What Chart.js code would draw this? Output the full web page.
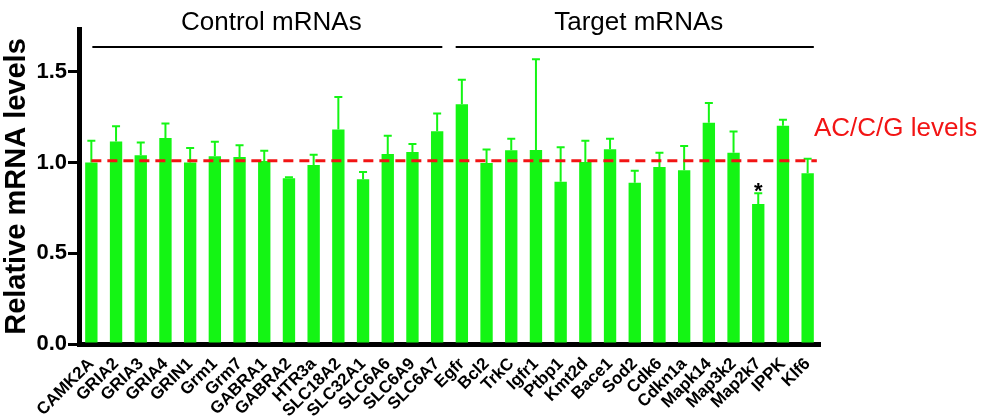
<!DOCTYPE html>
<html>
<head>
<meta charset="utf-8">
<script src="https://cdn.jsdelivr.net/npm/chart.js@4/dist/chart.umd.min.js"></script>
<style>
  html, body { margin: 0; padding: 0; background: #fff; }
  #wrap { width: 981px; height: 417px; }
</style>
</head>
<body>
<div id="wrap"><canvas id="chart"></canvas></div>
<script>
const controlGenes = ['CAMK2A', 'GRIA2', 'GRIA3', 'GRIA4', 'GRIN1', 'Grm1', 'Grm7', 'GABRA1', 'GABRA2', 'HTR3a', 'SLC18A2', 'SLC32A1', 'SLC6A6', 'SLC6A9', 'SLC6A7'];
const targetGenes = ['Egfr', 'Bcl2', 'TrkC', 'Igfr1', 'Ptbp1', 'Kmt2d', 'Bace1', 'Sod2', 'Cdk6', 'Cdkn1a', 'Mapk14', 'Map3k2', 'Map2k7', 'IPPK', 'Klf6'];

const controlMeans = [1.00, 1.115, 1.04, 1.135, 1.00, 1.034, 1.03, 1.008, 0.913, 0.986, 1.181, 0.907, 1.047, 1.058, 1.172];
const controlErrs = [0.12, 0.085, 0.07, 0.08, 0.08, 0.08, 0.065, 0.057, 0.005, 0.057, 0.18, 0.04, 0.10, 0.043, 0.098];
const targetMeans = [1.32, 0.997, 1.067, 1.069, 0.894, 1.003, 1.073, 0.888, 0.975, 0.957, 1.218, 1.054, 0.771, 1.202, 0.94];
const targetErrs = [0.136, 0.074, 0.063, 0.50, 0.19, 0.116, 0.057, 0.066, 0.079, 0.134, 0.109, 0.116, 0.059, 0.033, 0.08];

const yTicks = [0, 0.5, 1.0, 1.5];
const refLevel = 1.01;
const starred = ['Map2k7'];

const labels = controlGenes.concat(targetGenes);
const means = controlMeans.concat(targetMeans);
const errs = controlErrs.concat(targetErrs);

const GREEN = '#14f514';
const RED = '#f21414';
const FONT = '"Liberation Sans", Arial, sans-serif';

// error bars, reference line, group labels
const annotations = {
  id: 'annotations',
  afterDatasetsDraw(chart) {
    const ctx = chart.ctx;
    const x = chart.scales.x;
    const y = chart.scales.y;
    const meta = chart.getDatasetMeta(0);
    const half = meta.data[0].width / 2;

    ctx.save();
    // error bars
    ctx.strokeStyle = GREEN;
    ctx.lineWidth = 2;
    meta.data.forEach((bar, i) => {
      const top = y.getPixelForValue(means[i] + errs[i]);
      ctx.beginPath();
      ctx.moveTo(bar.x, bar.y);
      ctx.lineTo(bar.x, top);
      ctx.moveTo(bar.x - 4, top);
      ctx.lineTo(bar.x + 4, top);
      ctx.stroke();
      if (starred.includes(labels[i])) {
        ctx.fillStyle = '#000';
        ctx.font = 'bold 22px ' + FONT;
        ctx.textAlign = 'center';
        ctx.textBaseline = 'alphabetic';
        ctx.fillText('*', bar.x, top + 5);
      }
    });

    // reference level
    const ly = y.getPixelForValue(refLevel);
    ctx.strokeStyle = RED;
    ctx.lineWidth = 3;
    ctx.setLineDash([10, 6]);
    ctx.beginPath();
    ctx.moveTo(x.getPixelForValue(0), ly);
    ctx.lineTo(x.getPixelForValue(labels.length - 1) + half + 3, ly);
    ctx.stroke();
    ctx.setLineDash([]);
    ctx.fillStyle = RED;
    ctx.font = '26px ' + FONT;
    ctx.textAlign = 'left';
    ctx.textBaseline = 'middle';
    ctx.fillText('AC/C/G levels', 814, 129);

    // group brackets
    const groups = [
      { text: 'Control mRNAs', x0: x.getPixelForValue(0) + 1, x1: x.getPixelForValue(controlGenes.length - 1) + half - 1 },
      { text: 'Target mRNAs', x0: x.getPixelForValue(controlGenes.length) - half, x1: x.getPixelForValue(labels.length - 1) + half }
    ];
    ctx.strokeStyle = '#000';
    ctx.lineWidth = 2;
    ctx.fillStyle = '#000';
    ctx.textAlign = 'center';
    groups.forEach(g => {
      ctx.beginPath();
      ctx.moveTo(g.x0, 47);
      ctx.lineTo(g.x1, 47);
      ctx.stroke();
      ctx.fillText(g.text, (g.x0 + g.x1) / 2 + 4, 23);
    });
    ctx.restore();
  }
};

new Chart(document.getElementById('chart'), {
  type: 'bar',
  data: {
    labels: labels,
    datasets: [{
      data: means,
      backgroundColor: GREEN,
      borderWidth: 0,
      barPercentage: 0.5,
      categoryPercentage: 1.0
    }]
  },
  options: {
    responsive: true,
    maintainAspectRatio: false,
    animation: false,
    layout: { padding: { top: 29, right: 161, left: 0, bottom: 0 } },
    plugins: {
      legend: { display: false },
      tooltip: { enabled: false }
    },
    scales: {
      x: {
        grid: { display: false },
        border: { display: true, color: '#000', width: 5 },
        ticks: {
          autoSkip: false,
          minRotation: 45,
          maxRotation: 45,
          padding: 2,
          color: '#000',
          font: { family: FONT, size: 17, weight: 'bold' }
        },
        afterFit(scale) { scale.height = 73; }
      },
      y: {
        min: 0,
        max: 1.735,
        afterBuildTicks(scale) { scale.ticks = yTicks.map(v => ({ value: v })); },
        grid: { display: true, drawOnChartArea: false, drawTicks: true, tickLength: 11, lineWidth: 3, color: '#000' },
        border: { display: true, color: '#000', width: 5 },
        ticks: {
          padding: 1,
          color: '#000',
          font: { family: FONT, size: 22, weight: 'bold' },
          callback: v => v.toFixed(1)
        },
        title: {
          display: true,
          text: 'Relative mRNA levels',
          color: '#000',
          padding: { top: 0, bottom: 0 },
          font: { family: FONT, size: 29, weight: 'bold' }
        },
        afterFit(scale) { scale.width = 79; }
      }
    }
  },
  plugins: [annotations]
});
</script>
</body>
</html>
